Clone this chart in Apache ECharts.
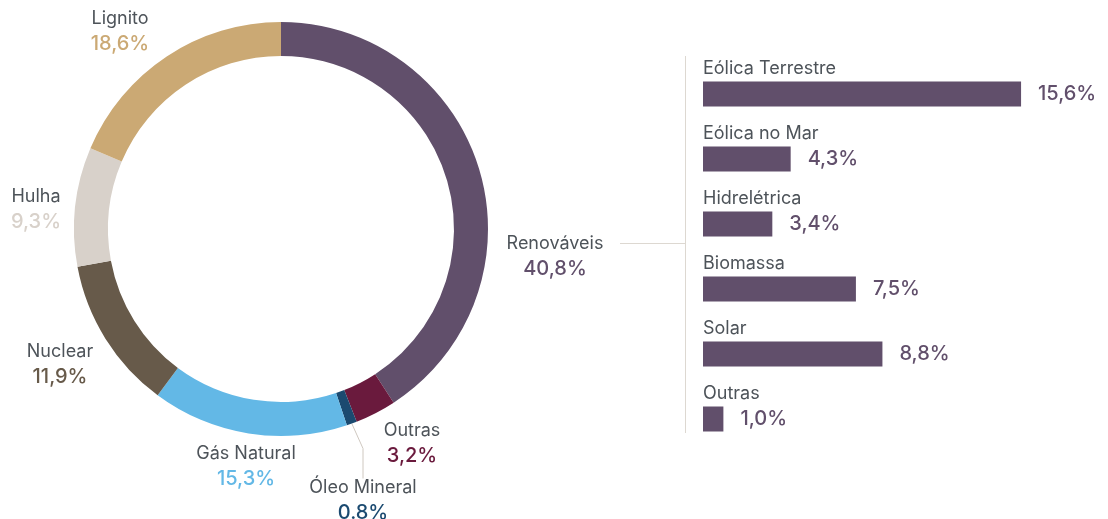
<!DOCTYPE html>
<html>
<head>
<meta charset="utf-8">
<script src="https://cdn.jsdelivr.net/npm/echarts@6/dist/echarts.min.js"></script>
<style>
  html, body { margin: 0; padding: 0; background: #fff; }
  #mix_chart { width: 1108px; height: 519px; }
</style>
</head>
<body>
<div id="mix_chart"></div>
<script>
(function() {
    "use strict";

    // Mix de produção (donut)
    var mixNames = ['Renováveis', 'Outras', 'Óleo Mineral', 'Gás Natural', 'Nuclear', 'Hulha', 'Lignito'];
    var mixValues = [40.8, 3.2, 0.8, 15.3, 11.9, 9.3, 18.6];
    var mixText = ['40,8%', '3,2%', '0.8%', '15,3%', '11,9%', '9,3%', '18,6%'];
    var mixColors = ['#614f6b', '#6a1a3d', '#1b4a70', '#63b8e6', '#675a4a', '#d8d1ca', '#cba974'];

    // Renováveis detalhadas (barras)
    var renNames = ['Eólica Terrestre', 'Eólica no Mar', 'Hidrelétrica', 'Biomassa', 'Solar', 'Outras'];
    var renValues = [15.6, 4.3, 3.4, 7.5, 8.8, 1.0];

    var fontName = 'Inter';
    var nameColor = '#4d5359';

    // where each donut label sits (center of the two-line block)
    var labelPos = [[555, 256], [412, 443], [363, 500], [246, 466], [60, 364], [36, 209], [120, 31]];

    var rich = { n: { fontSize: 18, color: nameColor, fontFamily: fontName, lineHeight: 25, align: 'center' } };
    mixColors.forEach(function(c, i) {
        rich['v' + i] = { fontSize: 20, fontWeight: 500, color: c, fontFamily: fontName, lineHeight: 25, align: 'center' };
    });

    var pieData = mixNames.map(function(n, i) {
        var item = { name: n, value: mixValues[i], itemStyle: { color: mixColors[i] } };
        if (i === 2) {
            item.labelLine = { show: true, lineStyle: { color: '#cfc8c0', width: 1 } };
        }
        return item;
    });

    var chart = echarts.init(document.getElementById('mix_chart'));

    var option = {
        animation: false,
        grid: {
            left: 703,
            top: 61.5,
            width: 367,
            height: 390
        },
        xAxis: {
            type: 'value',
            min: 0,
            max: 18,
            show: false
        },
        yAxis: {
            type: 'category',
            inverse: true,
            data: renNames,
            axisLine: { show: false },
            axisTick: { show: false },
            axisLabel: {
                inside: true,
                margin: 0,
                verticalAlign: 'bottom',
                padding: [0, 0, 16, 0],
                fontSize: 18,
                color: nameColor,
                fontFamily: fontName
            }
        },
        graphic: [
            {
                type: 'line',
                shape: { x1: 685.5, y1: 56, x2: 685.5, y2: 433 },
                style: { stroke: '#ddd8d1', lineWidth: 1 }
            },
            {
                type: 'line',
                shape: { x1: 620, y1: 243.5, x2: 685, y2: 243.5 },
                style: { stroke: '#ddd8d1', lineWidth: 1 }
            }
        ],
        series: [
            {
                name: 'Mix',
                type: 'pie',
                center: [281, 229],
                radius: [173, 207],
                startAngle: 90,
                clockwise: true,
                avoidLabelOverlap: false,
                itemStyle: { borderWidth: 0 },
                label: {
                    show: true,
                    position: 'outside',
                    formatter: function(p) {
                        return '{n|' + p.name + '}\n{v' + p.dataIndex + '|' + mixText[p.dataIndex] + '}';
                    },
                    rich: rich
                },
                labelLine: { show: false },
                labelLayout: function(p) {
                    var pos = labelPos[p.dataIndex];
                    return { x: pos[0], y: pos[1], align: 'center', verticalAlign: 'middle', moveOverlap: false };
                },
                emphasis: { disabled: true },
                data: pieData
            },
            {
                name: 'Renováveis',
                type: 'bar',
                barWidth: 25,
                itemStyle: { color: '#614f6b' },
                label: {
                    show: true,
                    position: 'right',
                    distance: 17,
                    fontSize: 20,
                    fontWeight: 500,
                    color: '#614f6b',
                    fontFamily: fontName,
                    formatter: function(p) {
                        return p.value.toFixed(1).replace('.', ',') + '%';
                    }
                },
                emphasis: { disabled: true },
                data: renValues
            }
        ]
    };

    chart.setOption(option);
})();
</script>
</body>
</html>
